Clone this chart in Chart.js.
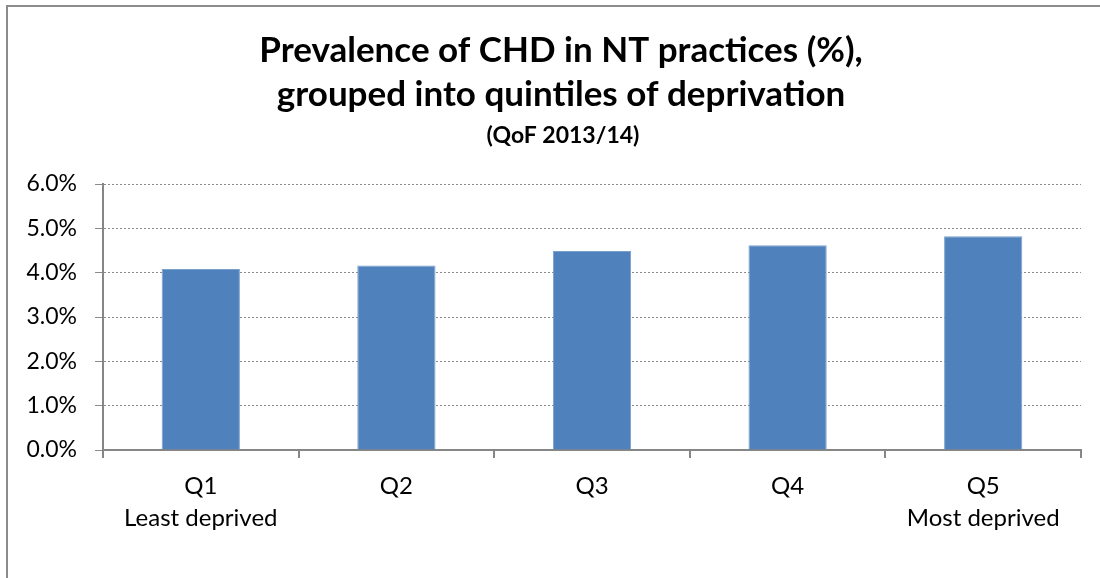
<!DOCTYPE html>
<html>
<head>
<meta charset="utf-8">
<script src="https://cdn.jsdelivr.net/npm/chart.js@4"></script>
<style>
  body { margin: 0; background: #fff; }
  #wrap { position: relative; width: 1100px; height: 578px; }
  #frame { position: absolute; left: 6px; top: 5px; right: 0; bottom: 0; border-left: 2px solid #8c8c8c; border-top: 2px solid #8c8c8c; pointer-events: none; }
</style>
</head>
<body>
<div id="wrap">
  <canvas id="graficoCHD" width="1100" height="578"></canvas>
  <div id="frame"></div>
</div>
<script>
  const quintis = ['Q1', 'Q2', 'Q3', 'Q4', 'Q5'];
  const subRotulos = ['Least deprived', '', '', '', 'Most deprived'];
  const prevalencia = [4.08, 4.16, 4.49, 4.62, 4.82];
  const tituloLinhas = ['Prevalence of CHD in NT practices (%),', 'grouped into quintiles of deprivation'];
  const subtitulo = '(QoF 2013/14)';

  const labels = quintis.map((q, i) => subRotulos[i] ? [q, subRotulos[i]] : q);
  const fonte = 'Lato';
  const cinza = '#868686';

  // título desenhado à mão: o plugin de título centra na largura toda e fica ~20px à esquerda
  const tituloCentrado = {
    id: 'tituloCentrado',
    afterDraw(chart) {
      const ctx = chart.ctx;
      const cx = 561;
      ctx.save();
      ctx.fillStyle = '#000';
      ctx.textAlign = 'center';
      ctx.textBaseline = 'alphabetic';
      ctx.font = `bold 35px ${fonte}`;
      ctx.fillText(tituloLinhas[0], cx, 62);
      ctx.fillText(tituloLinhas[1], cx, 106);
      ctx.font = `bold 23px ${fonte}`;
      ctx.fillText(subtitulo, cx + 2, 143);
      ctx.restore();
    }
  };

  new Chart(document.getElementById('graficoCHD'), {
    type: 'bar',
    data: {
      labels,
      datasets: [{
        label: 'Prevalence (%)',
        data: prevalencia,
        backgroundColor: '#4F81BD',
        borderColor: '#7A9FCC',
        borderWidth: 1,
        barPercentage: 0.4,
        categoryPercentage: 1
      }]
    },
    options: {
      responsive: false,
      animation: false,
      layout: { padding: { left: 0, right: 19, top: 184, bottom: 0 } },
      plugins: {
        legend: { display: false },
        tooltip: { enabled: false },
        title: { display: false }
      },
      scales: {
        y: {
          min: 0,
          max: 6,
          afterFit: (s) => { s.width = 103; },
          ticks: {
            stepSize: 1,
            color: '#000',
            padding: 18,
            font: { family: fonte, size: 23 },
            callback: (v) => v.toFixed(1) + '%'
          },
          grid: {
            color: '#8a8a8a',
            tickBorderDash: [],
            tickLength: 8,
            lineWidth: 1
          },
          border: { color: cinza, width: 2, dash: [2, 2] }
        },
        x: {
          afterFit: (s) => { s.height = 128; },
          ticks: {
            color: '#000',
            padding: 13,
            font: { family: fonte, size: 24, lineHeight: 1.3 }
          },
          grid: {
            offset: true,
            drawOnChartArea: false,
            color: cinza,
            tickLength: 8,
            lineWidth: 2
          },
          border: { color: cinza, width: 2 }
        }
      }
    },
    plugins: [tituloCentrado]
  });
</script>
</body>
</html>
